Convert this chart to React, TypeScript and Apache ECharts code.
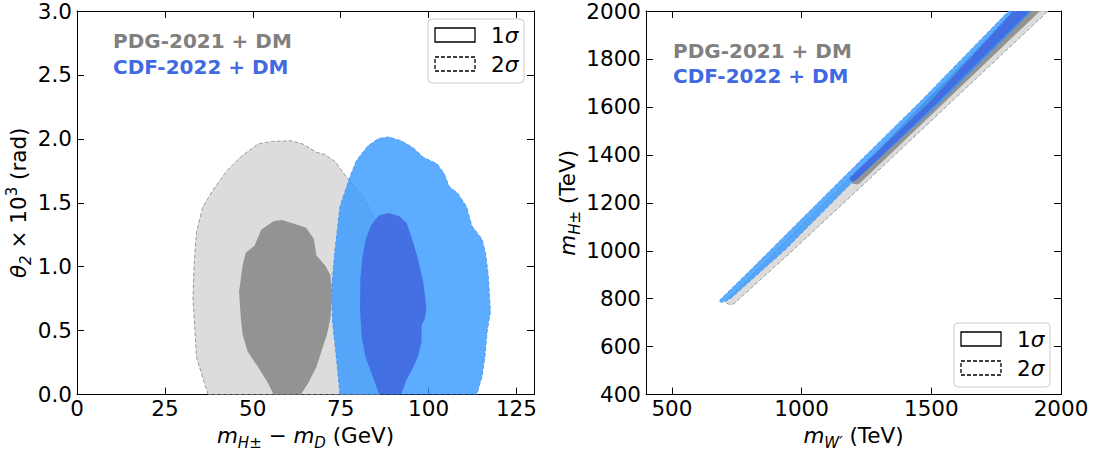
import React, { useEffect, useRef } from "react";
import * as echarts from "echarts";

// ---------- data ----------
// Left panel: x = m_H± − m_D (GeV), y = θ2 × 10^3 (rad)
const leftXTicks = [0, 25, 50, 75, 100, 125];
const rightXTicks = [500, 1000, 1500, 2000];

const pdgLeft2Sigma: [number, number][] = [
  [37.3, 0], [34.0, 0.29], [33.0, 0.75], [33.3, 1.01], [34.0, 1.27], [35.8, 1.47],
  [38.7, 1.6], [42.6, 1.75], [46.6, 1.86], [51.5, 1.96], [55.4, 1.98], [60.8, 1.985],
  [64.2, 1.96], [68.1, 1.895], [70.6, 1.877], [73.5, 1.82], [76.7, 1.7], [81.4, 1.545],
  [85.2, 1.352], [87.6, 1.134], [88.8, 0.877], [89.0, 0.696], [88.1, 0.465], [87.1, 0.234],
  [86.2, 0],
];
const pdgLeft1Sigma: [number, number][] = [
  [55.9, 0], [54.4, 0.087], [51.5, 0.215], [48.5, 0.34], [47.1, 0.47], [46.6, 0.6],
  [46.1, 0.805], [47.1, 1.01], [48.0, 1.11], [50.5, 1.164], [52.4, 1.29], [55.9, 1.356],
  [58.3, 1.365], [61.3, 1.34], [65.2, 1.305], [67.4, 1.215], [68.1, 1.087], [70.6, 1.01],
  [72.1, 0.933], [72.5, 0.754], [72.1, 0.6], [71.1, 0.47], [69.6, 0.344], [68.1, 0.215],
  [65.7, 0.087], [63.7, 0],
];
const cdfLeft2Sigma: [number, number][] = [
  [74.8, 0], [73.9, 0.26], [72.7, 0.57], [72.4, 0.825], [73.4, 1.13], [74.8, 1.47],
  [77.6, 1.7], [79.5, 1.83], [82.8, 1.946], [85.8, 2.003], [88.7, 2.015], [92.2, 1.985],
  [95.6, 1.93], [98.5, 1.856], [102.4, 1.805], [104.4, 1.73], [105.9, 1.625], [108.3, 1.575],
  [110.8, 1.47], [112.3, 1.32], [115.2, 1.215], [116.2, 1.11], [117.0, 0.93], [117.6, 0.65],
  [116.7, 0.5], [116.0, 0.29], [115.2, 0.14], [113.7, 0],
];
const cdfLeft1Sigma: [number, number][] = [
  [86.0, 0], [84.0, 0.15], [82.0, 0.3], [81.0, 0.45], [80.5, 0.67], [80.6, 0.9],
  [81.2, 1.08], [82.2, 1.22], [83.6, 1.32], [85.8, 1.4], [88.7, 1.42], [91.7, 1.395],
  [93.8, 1.34], [95.3, 1.22], [97.0, 1.06], [98.5, 0.88], [99.4, 0.68], [99.0, 0.6],
  [98.0, 0.54], [98.0, 0.41], [97.0, 0.3], [95.6, 0.21], [93.8, 0.12], [92.2, 0],
];

// Right panel: x = m_W' (TeV), y = m_H± (TeV)
const pdgRight2Sigma: [number, number][] = [
  [722, 776], [712, 781], [708, 790], [880, 975], [1100, 1212], [1300, 1428],
  [1500, 1645], [1815, 2000], [1951, 2000], [1578, 1622], [1250, 1288], [955, 991],
  [740, 780], [730, 775],
];
const pdgRight1Sigma: [number, number][] = [
  [1195, 1280], [1215, 1276], [1225, 1283], [1553, 1622], [1919, 2000], [1835, 2000],
  [1490, 1640], [1188, 1296],
];
const cdfRight2Sigma: [number, number][] = [
  [684, 790], [688, 798], [798, 914], [996, 1128], [1196, 1343], [1460, 1625],
  [1798, 2000], [1887, 2000], [1537, 1622], [1212, 1298], [1200, 1290], [1190, 1280],
  [935, 1003], [726, 801], [704, 788], [692, 784],
];
const cdfRight1Sigma: [number, number][] = [
  [1183, 1302], [1192, 1290], [1208, 1293], [1527, 1622], [1880, 2000], [1816, 2000],
  [1495, 1622],
];

// ---------- styles ----------
const FONT = "'DejaVu Sans', sans-serif";
const FS = 21.5;
const GRAY2 = "#dcdcdc";
const GRAY2_EDGE = "#9a9a9a";
const GRAY1 = "#939393";
const BLUE2 = "rgba(51,153,255,0.8)";
const BLUE2_EDGE = "rgba(60,140,245,0.8)";
const BLUE1 = "rgba(65,105,225,0.9)";

function poly(
  data: [number, number][],
  axisIdx: number,
  fill: string,
  stroke: string | null,
  dashed: boolean
) {
  return {
    type: "custom",
    xAxisIndex: axisIdx,
    yAxisIndex: axisIdx,
    coordinateSystem: "cartesian2d",
    silent: true,
    clip: true,
    encode: { x: 0, y: 1 },
    data,
    renderItem: (params: any, api: any) => {
      if (params.dataIndex !== 0) return null;
      const pts = data.map((d) => api.coord(d));
      return {
        type: "polygon",
        shape: { points: pts },
        style: {
          fill,
          stroke: stroke || "none",
          lineWidth: stroke ? 1 : 0,
          lineDash: dashed ? [4, 2] : null,
        },
      };
    },
  };
}

const richName = {
  p: { fontFamily: FONT, fontSize: FS, lineHeight: 29, color: "#000" },
  i: { fontFamily: FONT, fontSize: FS, fontStyle: "italic", lineHeight: 29, color: "#000" },
  s: { fontFamily: FONT, fontSize: 15, fontStyle: "italic", lineHeight: 15, verticalAlign: "bottom", color: "#000" },
  u: { fontFamily: FONT, fontSize: 15, lineHeight: 15, verticalAlign: "top", color: "#000" },
};

const axisLine = { show: true, onZero: false, lineStyle: { color: "#000", width: 1 } };
const tick = (vals?: number[]) => ({
  show: true,
  inside: true,
  length: 7,
  lineStyle: { color: "#000", width: 1 },
  ...(vals ? { customValues: vals } : {}),
});
const label = (extra: any) => ({
  fontFamily: FONT,
  fontSize: FS,
  color: "#000",
  ...extra,
});
const plain = (v: number) => String(v);

const option: any = {
  animation: false,
  backgroundColor: "#fff",
  grid: [
    { left: 77, top: 8, width: 457, height: 389 },
    { left: 646, top: 8, width: 415, height: 389 },
  ],
  xAxis: [
    {
      gridIndex: 0, type: "value", min: 0, max: 130, position: "bottom",
      axisLine, axisTick: tick(leftXTicks), splitLine: { show: false },
      axisLabel: label({ customValues: leftXTicks, margin: 3, formatter: plain }),
      name: "{i|m}{s|H±}{p| − }{i|m}{s|D}{p| (GeV)}",
      nameLocation: "middle", nameGap: 26,
      nameTextStyle: { fontFamily: FONT, fontSize: FS, color: "#000", rich: richName },
    },
    {
      gridIndex: 0, type: "value", min: 0, max: 130, position: "top",
      axisLine, axisTick: tick(leftXTicks), splitLine: { show: false },
      axisLabel: { show: false, customValues: leftXTicks },
    },
    {
      gridIndex: 1, type: "value", min: 400, max: 2000, position: "bottom",
      axisLine, axisTick: tick(rightXTicks), splitLine: { show: false },
      axisLabel: label({ customValues: rightXTicks, margin: 3, formatter: plain }),
      name: "{i|m}{s|W′}{p| (TeV)}",
      nameLocation: "middle", nameGap: 26,
      nameTextStyle: { fontFamily: FONT, fontSize: FS, color: "#000", rich: richName },
    },
    {
      gridIndex: 1, type: "value", min: 400, max: 2000, position: "top",
      axisLine, axisTick: tick(rightXTicks), splitLine: { show: false },
      axisLabel: { show: false, customValues: rightXTicks },
    },
  ],
  yAxis: [
    {
      gridIndex: 0, type: "value", min: 0, max: 3, interval: 0.5, position: "left",
      axisLine, axisTick: tick(), splitLine: { show: false },
      axisLabel: label({ margin: 5, formatter: (v: number) => v.toFixed(1) }),
      name: "{i|θ}{s|2}{p| × 10}{u|3}{p| (rad)}",
      nameLocation: "middle", nameGap: 44,
      nameTextStyle: { fontFamily: FONT, fontSize: FS, color: "#000", rich: richName },
    },
    {
      gridIndex: 0, type: "value", min: 0, max: 3, interval: 0.5, position: "right",
      axisLine, axisTick: tick(), splitLine: { show: false },
      axisLabel: { show: false },
    },
    {
      gridIndex: 1, type: "value", min: 400, max: 2000, interval: 200, position: "left",
      axisLine, axisTick: tick(), splitLine: { show: false },
      axisLabel: label({ margin: 5, formatter: plain }),
      name: "{i|m}{s|H±}{p| (TeV)}",
      nameLocation: "middle", nameGap: 63,
      nameTextStyle: { fontFamily: FONT, fontSize: FS, color: "#000", rich: richName },
    },
    {
      gridIndex: 1, type: "value", min: 400, max: 2000, interval: 200, position: "right",
      axisLine, axisTick: tick(), splitLine: { show: false },
      axisLabel: { show: false },
    },
  ],
  series: [
    poly(pdgLeft2Sigma, 0, GRAY2, GRAY2_EDGE, true),
    poly(pdgLeft1Sigma, 0, GRAY1, null, false),
    poly(cdfLeft2Sigma, 0, BLUE2, BLUE2_EDGE, true),
    poly(cdfLeft1Sigma, 0, BLUE1, null, false),
    poly(pdgRight2Sigma, 2, GRAY2, GRAY2_EDGE, true),
    poly(pdgRight1Sigma, 2, GRAY1, null, false),
    poly(cdfRight2Sigma, 2, BLUE2, BLUE2_EDGE, true),
    poly(cdfRight1Sigma, 2, BLUE1, null, false),
  ],
  graphic: [] as any[],
};

function annot(x: number, y1: number, y2: number) {
  const base = { fontFamily: FONT, fontSize: 20, fontWeight: "bold", textAlign: "left", textVerticalAlign: "middle", verticalAlign: "middle" };
  return [
    { type: "text", z: 50, x, y: y1, style: { ...base, text: "PDG-2021 + DM", fill: "#808080" } },
    { type: "text", z: 50, x, y: y2, style: { ...base, text: "CDF-2022 + DM", fill: "#4169e1" } },
  ];
}

function legendBox(bx: number, by: number) {
  const sig = {
    n: { fontFamily: FONT, fontSize: FS, fill: "#000" },
    i: { fontFamily: FONT, fontSize: FS, fontStyle: "italic", fill: "#000" },
  };
  return [
    { type: "rect", z: 50, shape: { x: bx, y: by, width: 96, height: 64, r: 4 }, style: { fill: "rgba(255,255,255,0.8)", stroke: "#cccccc", lineWidth: 1 } },
    { type: "rect", z: 51, shape: { x: bx + 7, y: by + 9, width: 40, height: 14 }, style: { fill: "none", stroke: "#000", lineWidth: 1.3 } },
    { type: "rect", z: 51, shape: { x: bx + 7, y: by + 38, width: 40, height: 14 }, style: { fill: "none", stroke: "#000", lineWidth: 1.3, lineDash: [4, 2] } },
    { type: "text", z: 51, x: bx + 63, y: by + 16, style: { text: "{n|1}{i|σ}", rich: sig, textVerticalAlign: "middle", verticalAlign: "middle", textAlign: "left" } },
    { type: "text", z: 51, x: bx + 63, y: by + 45, style: { text: "{n|2}{i|σ}", rich: sig, textVerticalAlign: "middle", verticalAlign: "middle", textAlign: "left" } },
  ];
}

option.graphic = [
  ...annot(113, 41, 67),
  ...annot(673, 51, 76),
  ...legendBox(428, 19),
  ...legendBox(954, 323),
];

export default function App() {
  const ref = useRef<HTMLDivElement>(null);
  useEffect(() => {
    const chart = echarts.init(ref.current!, null, { renderer: "svg" });
    chart.setOption(option);
    return () => chart.dispose();
  }, []);
  return (
    <div
      ref={ref}
      style={{ position: "fixed", left: 0, top: 0, width: 1097, height: 455, background: "#fff" }}
    />
  );
}
